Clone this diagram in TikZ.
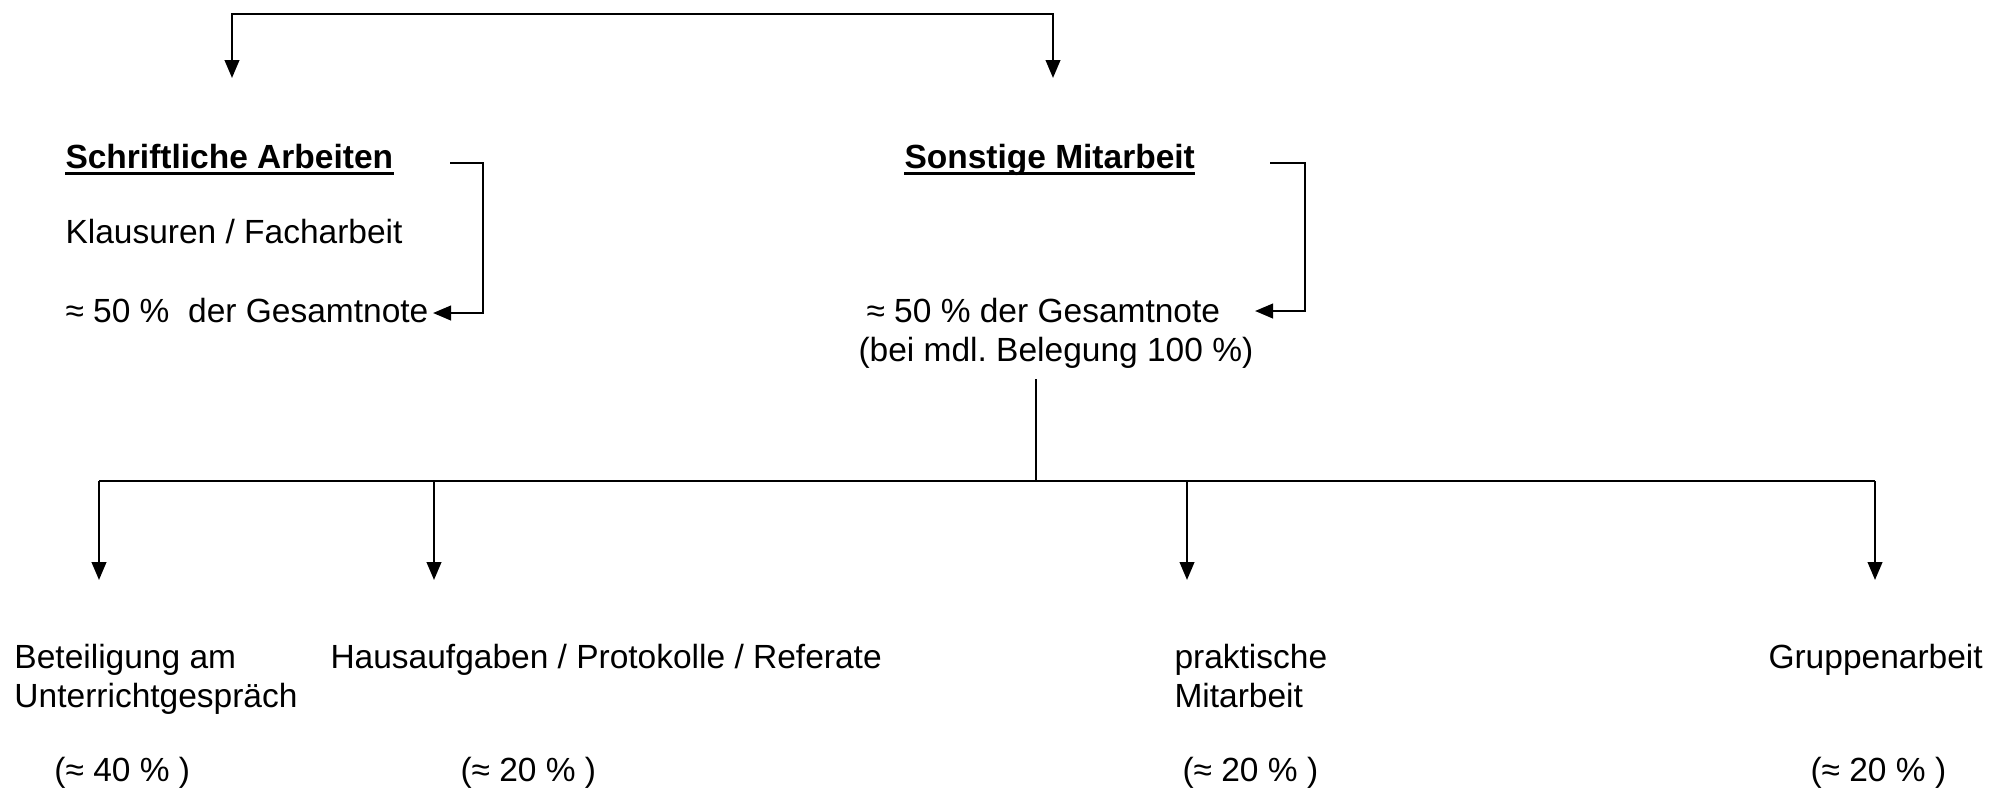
\documentclass[tikz,border=0pt]{standalone}
\usepackage{fontspec}
\setmainfont{Liberation Sans}
\usetikzlibrary{arrows.meta}
\frenchspacing
\begin{document}
\begin{tikzpicture}[x=0.4pt,y=-0.4pt,
  txt/.style={anchor=base west, inner sep=0pt, font=\fontsize{13.4}{15.6}\selectfont},
  hd/.style={txt, font=\fontsize{13.4}{15.6}\selectfont\bfseries},
  conn/.style={line width=1pt},
  arr/.style={conn, -{Triangle[length=7.2pt,width=5.8pt]}},
  darr/.style={conn, {Triangle[length=7.2pt,width=5.8pt]}-{Triangle[length=7.2pt,width=5.8pt]}},
  uline/.style={line width=1.2pt}]
\useasboundingbox (0,0) rectangle (2004,788);

% headings and texts
\node[hd] (sa) at (65,168) {Schriftliche Arbeiten};
\node[txt] (kl) at (65,243) {Klausuren / Facharbeit};
\node[txt] (g1) at (65,322) {≈ 50 \%~\ der Gesamtnote};
\node[hd] (sm) at (904,168) {Sonstige Mitarbeit};
\node[txt] (g2) at (866,322) {≈ 50 \% der Gesamtnote};
\node[txt] (bel) at (858,361) {(bei mdl. Belegung 100 \%)};

\draw[uline] ([yshift=-2pt]sa.base west) -- ([yshift=-2pt]sa.base east);
\draw[uline] ([yshift=-2pt]sm.base west) -- ([yshift=-2pt]sm.base east);

% top connector
\coordinate (ta) at (232,78);
\coordinate (tb) at (1053,78);
\coordinate (tl) at (232,14);
\coordinate (tr) at (1053,14);
\draw[darr] (ta) -- (tl) -- (tr) -- (tb);

% brackets
\coordinate (b1s) at (450,163);
\coordinate (b1c) at (483,163);
\coordinate (b1d) at (483,313);
\coordinate (b1e) at (433,313);
\draw[arr] (b1s) -- (b1c) -- (b1d) -- (b1e);
\coordinate (b2s) at (1270,163);
\coordinate (b2c) at (1305,163);
\coordinate (b2d) at (1305,311);
\coordinate (b2e) at (1255,311);
\draw[arr] (b2s) -- (b2c) -- (b2d) -- (b2e);

% tree
\coordinate (v0) at (1036,379);
\coordinate (hub) at (1036,481);
\coordinate (h1) at (99,481);
\coordinate (h2) at (434,481);
\coordinate (h3) at (1187,481);
\coordinate (h4) at (1875,481);
\coordinate (e1) at (99,580);
\coordinate (e2) at (434,580);
\coordinate (e3) at (1187,580);
\coordinate (e4) at (1875,580);
\draw[conn] (v0) -- (hub);
\draw[conn] (h1) -- (h4);
\draw[arr] (h1) -- (e1);
\draw[arr] (h2) -- (e2);
\draw[arr] (h3) -- (e3);
\draw[arr] (h4) -- (e4);

% bottom texts
\node[txt] (t1a) at (14,668) {Beteiligung am};
\node[txt] (t1b) at (14,707) {Unterrichtgespräch};
\node[txt] (p1) at (54,781) {(≈ 40 \% )};
\node[txt] (t2) at (330,668) {Hausaufgaben / Protokolle / Referate};
\node[txt] (p2) at (460,781) {(≈ 20 \% )};
\node[txt] (t3a) at (1174,668) {praktische};
\node[txt] (t3b) at (1174,707) {Mitarbeit};
\node[txt] (p3) at (1182,781) {(≈ 20 \% )};
\node[txt] (t4) at (1768,668) {Gruppenarbeit};
\node[txt] (p4) at (1810,781) {(≈ 20 \% )};
\end{tikzpicture}
\end{document}
